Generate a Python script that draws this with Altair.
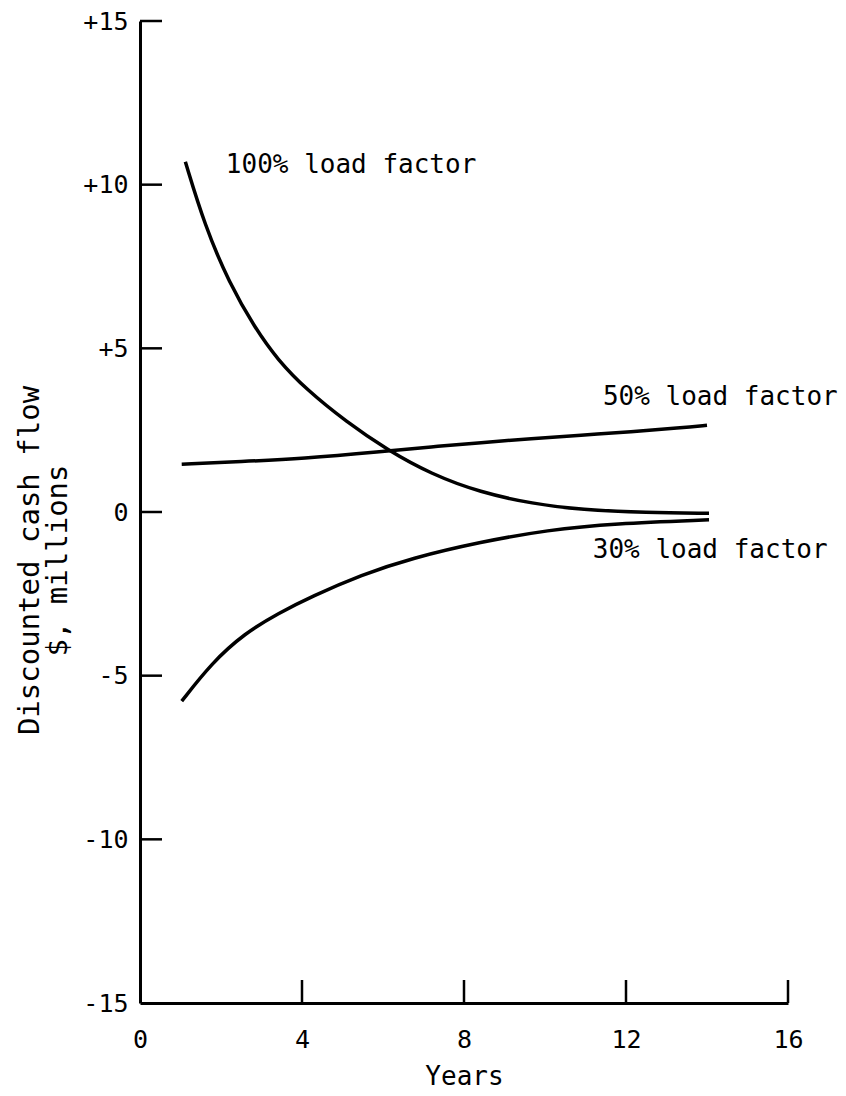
import altair as alt
import pandas as pd

# --- data ---
years_100 = [1.12, 1.6, 2.2, 2.85, 3.4, 4.1, 5.1, 6.1, 7.2, 8.4, 9.7, 10.9, 12.5, 14.05]
cf_100 = [10.7, 8.75, 7.0, 5.6, 4.65, 3.75, 2.75, 1.9, 1.15, 0.6, 0.25, 0.07, -0.02, -0.04]

years_50 = [1.03, 2.5, 4.0, 5.96, 7.19, 8.42, 9.66, 10.89, 12.12, 13.35, 14.0]
cf_50 = [1.46, 1.54, 1.63, 1.84, 1.99, 2.12, 2.24, 2.35, 2.45, 2.57, 2.65]

years_30 = [1.03, 1.77, 2.59, 3.42, 4.24, 5.47, 6.70, 8.42, 10.07, 11.7, 14.05]
cf_30 = [-5.78, -4.61, -3.70, -3.09, -2.58, -1.92, -1.41, -0.91, -0.55, -0.35, -0.24]

series_names = ["100% load factor", "50% load factor", "30% load factor"]
label_x = [2.12, 11.43, 11.18]
label_y = [10.6, 3.5, -1.16]

x_tick_values = [0, 4, 8, 12, 16]
y_tick_values = [-15, -10, -5, 0, 5, 10, 15]
x_inner_ticks = [4, 8, 12, 16]
y_inner_ticks = [-10, -5, 0, 5, 10, 15]

W, H = 648, 982
FONT = "DejaVu Sans Mono"

rows = []
for name, xs, ys in zip(series_names, [years_100, years_50, years_30], [cf_100, cf_50, cf_30]):
    for i, (a, b) in enumerate(zip(xs, ys)):
        rows.append({"series": name, "year": a, "cf": b, "order": i})
lines_df = pd.DataFrame(rows)
labels_df = pd.DataFrame({"label": series_names, "x": label_x, "y": label_y})
xt_df = pd.DataFrame({"t": x_inner_ticks})
yt_df = pd.DataFrame({"t": y_inner_ticks})

xscale = alt.Scale(domain=[0, 16], nice=False, zero=False)
yscale = alt.Scale(domain=[-15, 15], nice=False, zero=False)

x_axis = alt.Axis(
    values=x_tick_values, ticks=False, grid=False, domainColor="black", domainWidth=3,
    labelFont=FONT, labelFontSize=25, labelColor="black", labelPadding=24,
    title="Years", titleFont=FONT, titleFontSize=26, titleFontWeight="normal",
    titleColor="black", titlePadding=11, labelFlush=False,
)
y_axis = alt.Axis(
    values=y_tick_values, ticks=False, grid=False, domainColor="black", domainWidth=3,
    labelFont=FONT, labelFontSize=25, labelColor="black", labelPadding=12,
    labelExpr="datum.value > 0 ? '+' + datum.value : '' + datum.value",
    labelFlush=False,
    title=["Discounted cash flow", "$, millions"], titleFont=FONT, titleFontSize=29,
    titleFontWeight="normal", titleColor="black", titleLineHeight=28,
    titleX=-96, titleY=539,
)

lines = alt.Chart(lines_df).mark_line(
    color="black", strokeWidth=3.5, interpolate="basis"
).encode(
    x=alt.X("year:Q", scale=xscale, axis=x_axis),
    y=alt.Y("cf:Q", scale=yscale, axis=y_axis),
    detail="series:N",
    order="order:Q",
)

labels = alt.Chart(labels_df).mark_text(
    align="left", baseline="middle", font=FONT, fontSize=26, color="black"
).encode(
    x=alt.X("x:Q", scale=xscale),
    y=alt.Y("y:Q", scale=yscale),
    text="label:N",
)

xticks = alt.Chart(xt_df).mark_rule(color="black", strokeWidth=2.5).encode(
    x=alt.X("t:Q", scale=xscale),
    y=alt.value(H),
    y2=alt.value(H - 23),
)
yticks = alt.Chart(yt_df).mark_rule(color="black", strokeWidth=2.5).encode(
    y=alt.Y("t:Q", scale=yscale),
    x=alt.value(0),
    x2=alt.value(22),
)

chart = alt.layer(lines, labels, xticks, yticks).properties(
    width=W, height=H,
    autosize=alt.AutoSizeParams(type="none"),
    padding={"left": 132, "top": 13, "right": 50, "bottom": 92},
    background="white",
).configure_view(stroke=None)

chart.save("out.html", embed_options={"renderer": "svg", "actions": False})
